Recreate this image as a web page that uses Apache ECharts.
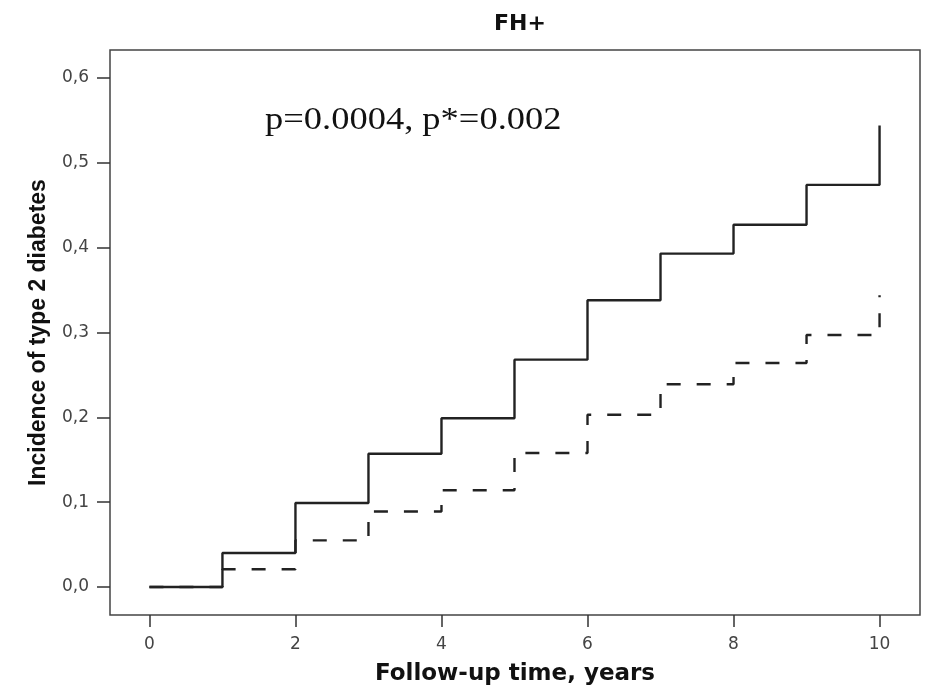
<!DOCTYPE html>
<html>
<head>
<meta charset="utf-8">
<script src="https://cdn.jsdelivr.net/npm/echarts@6/dist/echarts.min.js"></script>
<style>
html,body{margin:0;padding:0;background:#fff;}
#chart{width:925px;height:693px;}
</style>
</head>
<body>
<div id="chart"></div>
<script>
// Follow-up time (years)
const years = [0, 1, 2, 3, 4, 5, 6, 7, 8, 9, 10];
// Cumulative incidence, solid curve
const solidIncidence = [0, 0.040, 0.099, 0.157, 0.199, 0.268, 0.338, 0.393, 0.427, 0.474, 0.544];
// Cumulative incidence, dashed curve
const dashedIncidence = [0, 0.021, 0.055, 0.089, 0.114, 0.158, 0.203, 0.239, 0.264, 0.297, 0.344];
// Tick values
const xTicks = [0, 2, 4, 6, 8, 10];
const yTicks = [0, 0.1, 0.2, 0.3, 0.4, 0.5, 0.6];
const titleText = 'FH+';
const annotationText = 'p=0.0004, p*=0.002';
const xName = 'Follow-up time, years';
const yName = 'Incidence of type 2 diabetes';

const chart = echarts.init(document.getElementById('chart'));
const toPairs = (xs, ys) => xs.map((x, i) => [x, ys[i]]);

chart.setOption({
  animation: false,
  backgroundColor: '#ffffff',
  title: {
    text: titleText,
    left: 515,
    top: 8,
    textAlign: 'center',
    textStyle: { fontFamily: 'DejaVu Sans', fontWeight: 'bold', fontSize: 22, color: '#111' }
  },
  grid: {
    left: 110, right: 5, top: 50, bottom: 78,
    show: true, borderColor: '#444', borderWidth: 1.5, backgroundColor: '#fff'
  },
  xAxis: {
    type: 'value',
    min: -0.54, max: 10.554,
    name: xName,
    nameLocation: 'middle',
    nameGap: 48,
    nameTextStyle: { fontFamily: 'DejaVu Sans', fontWeight: 'bold', fontSize: 23, color: '#111' },
    axisLine: { show: false, onZero: false },
    splitLine: { show: false },
    axisTick: { show: true, inside: false, length: 12, customValues: xTicks, lineStyle: { color: '#333', width: 1.5 } },
    axisLabel: { customValues: xTicks, margin: 21, fontFamily: 'DejaVu Sans', fontSize: 17, color: '#444' }
  },
  yAxis: {
    type: 'value',
    min: -0.033, max: 0.633,
    name: yName,
    nameLocation: 'middle',
    nameGap: 60,
    nameTextStyle: { fontFamily: 'Liberation Sans', fontWeight: 'bold', fontSize: 23, color: '#111' },
    axisLine: { show: false, onZero: false },
    splitLine: { show: false },
    axisTick: { show: true, inside: false, length: 13, customValues: yTicks, lineStyle: { color: '#333', width: 1.5 } },
    axisLabel: {
      customValues: yTicks, margin: 21, fontFamily: 'DejaVu Sans', fontSize: 17, color: '#444',
      formatter: v => v.toFixed(1).replace('.', ',')
    }
  },
  graphic: [{
    type: 'text',
    x: 265, y: 121,
    scaleX: 1.14,
    style: {
      text: annotationText,
      font: '32px "Liberation Serif"',
      fill: '#111',
      align: 'left',
      verticalAlign: 'middle'
    }
  }],
  series: [
    {
      type: 'line', step: 'end', symbol: 'none', z: 2,
      data: toPairs(years, dashedIncidence),
      lineStyle: { color: '#222', width: 2.4, type: [14, 16] }
    },
    {
      type: 'line', step: 'end', symbol: 'none', z: 3,
      data: toPairs(years, solidIncidence),
      lineStyle: { color: '#222', width: 2.4, type: 'solid' }
    }
  ]
});
</script>
</body>
</html>
